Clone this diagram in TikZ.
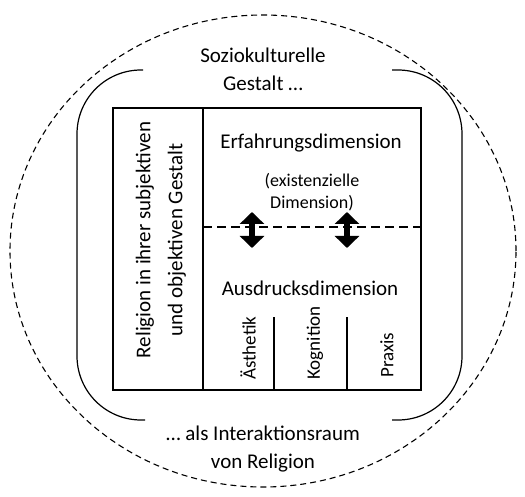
\documentclass[tikz,border=0pt]{standalone}
\usepackage{fontspec}
\setmainfont{Carlito}
\usetikzlibrary{arrows.meta}
\begin{document}
\begin{tikzpicture}[x=1pt,y=-1pt,
  big/.style={font=\fontsize{21}{28}\selectfont, align=center, inner sep=0pt},
  small/.style={font=\fontsize{18}{22}\selectfont, align=center, inner sep=0pt},
  vert/.style={font=\fontsize{19}{23}\selectfont, rotate=90, inner sep=0pt},
  leftvert/.style={font=\fontsize{21}{32}\selectfont, rotate=90, align=center, inner sep=0pt},
  frame/.style={line width=1.4pt},
  bracket/.style={line width=1.2pt, rounded corners=64pt},
  outer/.style={line width=1.1pt, dash pattern=on 6pt off 4pt},
  inner/.style={line width=1.2pt, dash pattern=on 9pt off 5pt},
  dblarrow/.style={line width=6pt, {Triangle[width=24pt,length=12pt]}-{Triangle[width=24pt,length=12pt]}}]
\useasboundingbox (0,0) rectangle (525,497);
% outer dashed ellipse
\draw[outer] (263,251) ellipse [x radius=253pt, y radius=236pt];
% solid brackets
\draw[bracket] (143,70) -- (77,70) -- (77,420) -- (145,420);
\draw[bracket] (392,70) -- (462,70) -- (462,420) -- (392,420);
% inner box
\draw[frame] (113,108) rectangle (421,390);
\draw[frame] (203,108) -- (203,390);
\draw[inner] (203,227) -- (421,227);
\draw[frame] (274,317) -- (274,390);
\draw[frame] (347,317) -- (347,390);
% texts
\node[big] (top) at (263,69) {Soziokulturelle\\Gestalt \dots};
\node[big] (erf) at (311,143) {Erfahrungsdimension};
\node[small] (exi) at (312,192) {(existenzielle\\Dimension)};
\node[big] (aus) at (310,288) {Ausdrucksdimension};
\node[leftvert] (rel) at (161,240) {Religion in ihrer subjektiven\\und objektiven Gestalt};
\node[vert, anchor=west] (aest) at (248,380) {Ästhetik};
\node[vert, anchor=west] (kog) at (315,380) {Kognition};
\node[vert, anchor=west] (prax) at (387,378) {Praxis};
\node[big] (bot) at (263,449) {\dots\ als Interaktionsraum\\von Religion};
% arrows
\coordinate (a1t) at (252,212); \coordinate (a1b) at (252,248);
\coordinate (a2t) at (347,212); \coordinate (a2b) at (347,248);
\draw[dblarrow] (a1t) -- (a1b);
\draw[dblarrow] (a2t) -- (a2b);
\end{tikzpicture}
\end{document}
